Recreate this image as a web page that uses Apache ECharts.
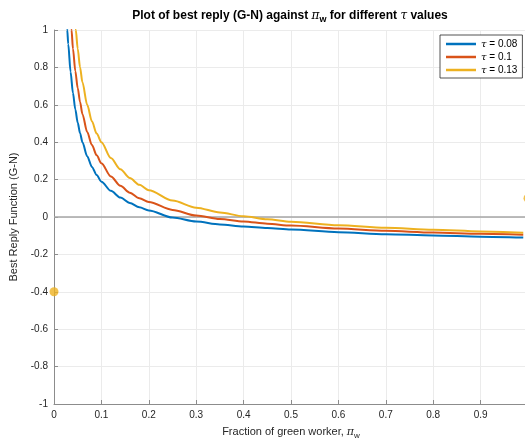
<!DOCTYPE html>
<html>
<head>
<meta charset="utf-8">
<script src="https://cdn.jsdelivr.net/npm/echarts@6/dist/echarts.min.js"></script>
<style>
html,body{margin:0;padding:0;background:#fff;overflow:hidden;width:525px;height:441px;}
#c{width:528px;height:441px;}
</style>
</head>
<body>
<div id="c"></div>
<script>
// ---- data ----
const seriesNames = ['τ = 0.08', 'τ = 0.1', 'τ = 0.13'];

const blueX = [0.026,0.028,0.03,0.035,0.04,0.045,0.05,0.055,0.06,0.07,0.08,0.09,0.1,0.12,0.14,0.16,0.18,0.2,0.25,0.3,0.35,0.4,0.45,0.5,0.6,0.7,0.8,0.9,0.99];
const blueY = [1.087,1.0,0.925,0.775,0.663,0.575,0.505,0.448,0.4,0.325,0.268,0.224,0.189,0.14,0.104,0.075,0.052,0.035,-0.003,-0.0245,-0.04,-0.051,-0.059,-0.067,-0.081,-0.092,-0.099,-0.105,-0.11];

const orangeX = [0.034,0.037,0.04,0.045,0.05,0.055,0.06,0.07,0.08,0.09,0.1,0.12,0.14,0.16,0.18,0.2,0.25,0.3,0.35,0.4,0.45,0.5,0.6,0.7,0.8,0.9,0.99];
const orangeY = [1.1,1.0,0.9,0.78,0.69,0.615,0.55,0.455,0.385,0.33,0.287,0.217,0.167,0.13,0.1,0.08,0.038,0.008,-0.011,-0.024,-0.036,-0.046,-0.062,-0.074,-0.083,-0.09,-0.095];

const yellowX = [0.042,0.046,0.05,0.055,0.06,0.07,0.08,0.09,0.1,0.12,0.14,0.16,0.18,0.2,0.25,0.3,0.35,0.4,0.45,0.5,0.6,0.7,0.8,0.9,0.99];
const yellowY = [1.107,1.0,0.9,0.8,0.72,0.6,0.512,0.446,0.4,0.315,0.255,0.208,0.172,0.143,0.088,0.05,0.024,0.004,-0.012,-0.025,-0.044,-0.057,-0.068,-0.077,-0.084];

const dotX = [0, 1];
const dotY = [-0.4, 0.1];

const zeroLevel = 0;
// ---------------------------------------

const colors = ['#0072BD', '#D95319', '#EDB120'];
const FONT = '"Liberation Sans", Arial, Helvetica, sans-serif';
const GREEK = '"DejaVu Serif", "Liberation Serif", serif';

function pairs(xs, ys) { return xs.map((x, i) => [x, ys[i]]); }

const chart = echarts.init(document.getElementById('c'), null, {renderer: 'canvas'});

function lineSeries(name, xs, ys, color, extra) {
  return Object.assign({
    name: name,
    type: 'line',
    data: pairs(xs, ys),
    showSymbol: false,
    symbol: 'none',
    smooth: 0.3,
    smoothMonotone: 'x',
    clip: true,
    lineStyle: {color: color, width: 2},
    itemStyle: {color: color},
    z: 3
  }, extra || {});
}

const option = {
  animation: false,
  backgroundColor: '#ffffff',
  textStyle: {fontFamily: FONT},
  grid: {left: 54, right: 0, top: 30, bottom: 37, containLabel: false, outerBoundsMode: 'none'},
  graphic: [{
    type: 'text',
    x: 290, y: 8,
    style: {
      text: '{b|Plot of best reply (G-N) against }{g|π}{s|w}{b| for different }{g|τ}{b| values}',
      align: 'center',
      rich: {
        b: {fontFamily: FONT, fontWeight: 'bold', fontSize: 12, fill: '#000', lineHeight: 15},
        g: {fontFamily: GREEK, fontStyle: 'italic', fontSize: 12, fill: '#000', lineHeight: 15},
        s: {fontFamily: FONT, fontWeight: 'bold', fontSize: 9, fill: '#000', padding: [9, 0, 0, 0], lineHeight: 15}
      }
    }
  }],
  legend: {
    left: 440, top: 35,
    orient: 'vertical',
    data: seriesNames,
    icon: 'rect',
    itemWidth: 30,
    itemHeight: 2.5,
    itemGap: 3,
    padding: [4, 5, 3, 6],
    borderColor: '#262626',
    borderWidth: 0.8,
    backgroundColor: '#fff',
    formatter: function (n) { return '{g|τ}{t|' + n.slice(1) + '}'; },
    textStyle: {
      fontSize: 10, color: '#000',
      rich: {
        g: {fontFamily: GREEK, fontStyle: 'italic', fontSize: 10, color: '#000'},
        t: {fontFamily: FONT, fontSize: 10, color: '#000'}
      }
    }
  },
  xAxis: {
    type: 'value', min: 0, max: 1, interval: 0.1,
    name: 'Fraction of green worker, {g|π}{s|w}',
    nameLocation: 'middle', nameGap: 20,
    nameTextStyle: {
      fontFamily: FONT, fontSize: 11, color: '#262626',
      rich: {
        g: {fontFamily: GREEK, fontStyle: 'italic', fontSize: 11, color: '#262626'},
        s: {fontFamily: FONT, fontSize: 8, color: '#262626', padding: [8, 0, 0, 0]}
      }
    },
    axisLine: {show: true, onZero: false, lineStyle: {color: '#8c8c8c', width: 1}},
    axisTick: {show: true, inside: true, length: 4, lineStyle: {color: '#8c8c8c'}},
    axisLabel: {
      fontFamily: FONT, fontSize: 10, color: '#262626', margin: 6,
      formatter: function (v) { return String(Math.round(v * 10) / 10); }
    },
    splitLine: {show: true, lineStyle: {color: '#ebebeb', width: 1}}
  },
  yAxis: {
    type: 'value', min: -1, max: 1, interval: 0.2,
    name: 'Best Reply Function (G-N)',
    nameLocation: 'middle', nameGap: 27, nameRotate: 90,
    nameTextStyle: {fontFamily: FONT, fontSize: 11, color: '#262626'},
    axisLine: {show: true, onZero: false, lineStyle: {color: '#8c8c8c', width: 1}},
    axisTick: {show: true, inside: true, length: 4, lineStyle: {color: '#8c8c8c'}},
    axisLabel: {
      fontFamily: FONT, fontSize: 10, color: '#262626', margin: 6,
      formatter: function (v) { return String(Math.round(v * 10) / 10); }
    },
    splitLine: {show: true, lineStyle: {color: '#ebebeb', width: 1}}
  },
  series: [
    lineSeries(seriesNames[0], blueX, blueY, colors[0], {
      markLine: {
        silent: true, symbol: 'none', animation: false,
        label: {show: false},
        lineStyle: {color: '#a6a6a6', width: 1.5, type: 'solid'},
        data: [{yAxis: zeroLevel}],
        z: 2
      }
    }),
    lineSeries(seriesNames[1], orangeX, orangeY, colors[1]),
    lineSeries(seriesNames[2], yellowX, yellowY, colors[2]),
    {
      name: 'dots',
      type: 'scatter',
      data: pairs(dotX, dotY),
      symbol: 'circle',
      symbolSize: 9,
      clip: false,
      itemStyle: {color: colors[2]},
      z: 4
    }
  ]
};
chart.setOption(option);
</script>
</body>
</html>
